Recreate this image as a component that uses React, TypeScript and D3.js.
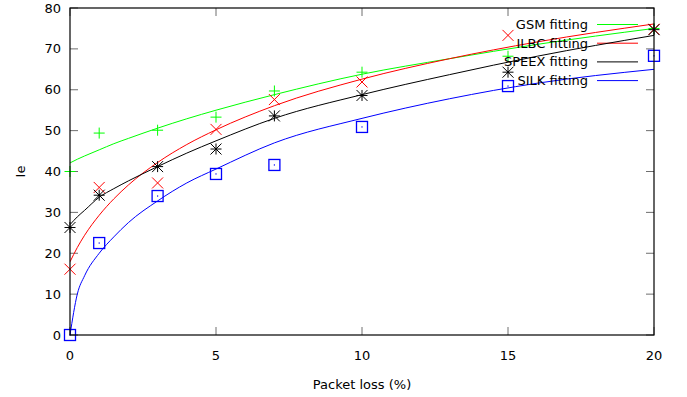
import React from "react";
import * as d3 from "d3";

const W = 687;
const H = 397;

// measured packet-loss levels
const lossX = [0, 1, 3, 5, 7, 10, 15, 20];
const gsmIe = [40, 49.4, 50.1, 53.3, 59.7, 64.3, 68.2, 75];
const ilbcIe = [16.1, 36.1, 37.2, 50.3, 57.6, 61.9, 73.3, 74.8];
const speexIe = [26.3, 34.2, 41.2, 45.5, 53.6, 58.6, 64.3, 74.7];
const silkIe = [0, 22.5, 34.0, 39.4, 41.6, 50.9, 60.9, 68.3];

// fitted curves
const fitX = [0, 0.25, 0.5, 1, 1.5, 2, 3, 4, 5, 7, 10, 13, 16, 20];
const gsmFit = [42.1, 43.0, 43.8, 45.3, 46.8, 48.1, 50.6, 52.9, 55.0, 58.8, 63.8, 67.6, 71.1, 75.0];
const ilbcFit = [17.9, 21.4, 24.4, 29.3, 33.3, 36.7, 42.2, 46.6, 50.2, 56.1, 62.6, 67.6, 71.7, 76.1];
const speexFit = [27.0, 28.9, 30.5, 33.7, 35.8, 37.7, 41.2, 44.5, 47.5, 53.0, 58.8, 63.7, 68.2, 73.3];
const silkFit = [0, 10.0, 14.5, 20.0, 24.0, 27.5, 32.8, 37.2, 40.6, 47.0, 53.0, 57.8, 61.6, 65.0];

const xTicks = [0, 5, 10, 15, 20];
const yTicks = [0, 10, 20, 30, 40, 50, 60, 70, 80];

const seriesNames = ["GSM fitting", "ILBC fitting", "SPEEX fitting", "SILK fitting"];
const seriesColors = ["#00ff00", "#ff0000", "#000000", "#0000ff"];
const seriesPoints = [gsmIe, ilbcIe, speexIe, silkIe];
const seriesFits = [gsmFit, ilbcFit, speexFit, silkFit];
const markerKinds = ["plus", "cross", "star", "square"];

const left = 70;
const right = 654;
const top = 8;
const bottom = 335;

const FONT = "DejaVu Sans, Verdana, sans-serif";

function Marker({ kind, cx, cy, color }: { kind: string; cx: number; cy: number; color: string }) {
  const s = 5.5;
  const sw = 1;
  if (kind === "plus") {
    return (
      <g stroke={color} strokeWidth={sw}>
        <line x1={cx - s} y1={cy} x2={cx + s} y2={cy} />
        <line x1={cx} y1={cy - s} x2={cx} y2={cy + s} />
      </g>
    );
  }
  if (kind === "cross") {
    return (
      <g stroke={color} strokeWidth={sw}>
        <line x1={cx - s} y1={cy - s} x2={cx + s} y2={cy + s} />
        <line x1={cx - s} y1={cy + s} x2={cx + s} y2={cy - s} />
      </g>
    );
  }
  if (kind === "star") {
    return (
      <g stroke={color} strokeWidth={sw}>
        <line x1={cx - s} y1={cy} x2={cx + s} y2={cy} />
        <line x1={cx} y1={cy - s} x2={cx} y2={cy + s} />
        <line x1={cx - s} y1={cy - s} x2={cx + s} y2={cy + s} />
        <line x1={cx - s} y1={cy + s} x2={cx + s} y2={cy - s} />
        <rect x={cx - 1} y={cy - 1} width={2} height={2} fill={color} stroke="none" />
      </g>
    );
  }
  return (
    <g>
      <rect x={cx - s} y={cy - s} width={2 * s} height={2 * s} fill="none" stroke={color} strokeWidth={1.3} />
      <rect x={cx - 0.6} y={cy - 0.6} width={1.2} height={1.2} fill={color} />
    </g>
  );
}

export default function App() {
  const x = d3.scaleLinear().domain([0, 20]).range([left, right]);
  const y = d3.scaleLinear().domain([0, 80]).range([bottom, top]);

  const line = d3
    .line<number>()
    .x((_, i) => x(fitX[i]))
    .y((d) => y(d))
    .curve(d3.curveMonotoneX);

  const legendY = [24.5, 43.2, 61.9, 80.6];

  return (
    <svg
      width={W}
      height={H}
      style={{ position: "absolute", left: 0, top: 0, background: "#fff" }}
      fontFamily={FONT}
    >
      <rect x={0} y={0} width={W} height={H} fill="#fff" />
      <defs>
        <clipPath id="plotclip">
          <rect x={left} y={top} width={right - left} height={bottom - top} />
        </clipPath>
      </defs>

      {/* ticks */}
      <g stroke="#6e6e6e" strokeWidth={1}>
        {yTicks.map((t) => (
          <g key={"yt" + t}>
            <line x1={left} x2={left + 8} y1={y(t)} y2={y(t)} />
            <line x1={right - 8} x2={right} y1={y(t)} y2={y(t)} />
          </g>
        ))}
        {xTicks.map((t) => (
          <g key={"xt" + t}>
            <line x1={x(t)} x2={x(t)} y1={bottom} y2={bottom - 8} />
            <line x1={x(t)} x2={x(t)} y1={top} y2={top + 8} />
          </g>
        ))}
      </g>

      {/* tick labels */}
      <g fontSize={13} fill="#000">
        {yTicks.map((t) => (
          <text key={"yl" + t} x={left - 9} y={y(t)} textAnchor="end" dominantBaseline="central">
            {t}
          </text>
        ))}
        {xTicks.map((t) => (
          <text key={"xl" + t} x={x(t)} y={360} textAnchor="middle">
            {t}
          </text>
        ))}
      </g>

      {/* axis titles */}
      <text x={(left + right) / 2} y={389} textAnchor="middle" fontSize={13}>
        Packet loss (%)
      </text>
      <text
        transform={`translate(25, ${(top + bottom) / 2}) rotate(-90)`}
        textAnchor="middle"
        fontSize={13}
      >
        Ie
      </text>

      {/* series */}
      {seriesNames.map((name, si) => (
        <g key={name}>
          {seriesPoints[si].map((v, i) => (
            <Marker key={i} kind={markerKinds[si]} cx={x(lossX[i])} cy={y(v)} color={seriesColors[si]} />
          ))}
          <path
            d={line(seriesFits[si]) || ""}
            fill="none"
            stroke={seriesColors[si]}
            strokeWidth={1}
            clipPath="url(#plotclip)"
          />
          <text x={588} y={legendY[si]} textAnchor="end" dominantBaseline="central" fontSize={13}>
            {name}
          </text>
          <line x1={597} x2={638} y1={legendY[si]} y2={legendY[si]} stroke={seriesColors[si]} strokeWidth={1} />
        </g>
      ))}

      {/* border */}
      <rect x={left} y={top} width={right - left} height={bottom - top} fill="none" stroke="#000" strokeWidth={1.2} />
    </svg>
  );
}
